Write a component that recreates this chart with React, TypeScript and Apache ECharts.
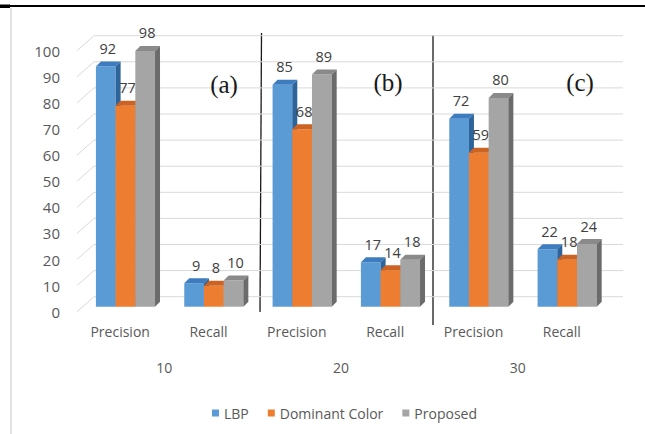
import React, { useEffect, useRef } from "react";
import * as echarts from "echarts";

const categories = ["Precision", "Recall", "Precision", "Recall", "Precision", "Recall"];
const groups = ["10", "20", "30"];
const seriesNames = ["LBP", "Dominant Color", "Proposed"];
const lbp = [92, 9, 85, 17, 72, 22];
const dominant = [77, 8, 68, 14, 59, 18];
const proposed = [98, 10, 89, 18, 80, 24];
const yTicks = [0, 10, 20, 30, 40, 50, 60, 70, 80, 90, 100];
const panelLabels = ["(a)", "(b)", "(c)"];

const FONT = "Open Sans";
const TEXT_COLOR = "#595959";
const palettes = [
  { front: "#5B9BD5", top: "#3D7CBF", side: "#2E649C" },
  { front: "#ED7D31", top: "#CC6322", side: "#A9501A" },
  { front: "#A5A5A5", top: "#8A8A8A", side: "#6B6B6B" },
];

const BAR_W = 19.7;
const DX = 5;
const DY = -5;
const SHIFT_X = 5.3;
const SHIFT_Y = -5;
const WALL_DX = 18;
const WALL_DY = -15;

function barRender(sIdx: number) {
  return (params: any, api: any) => {
    const i = api.value(0);
    const v = api.value(1);
    const top = api.coord([i, v]);
    const base = api.coord([i, 0]);
    const x0 = top[0] + SHIFT_X - 1.5 * BAR_W + sIdx * BAR_W;
    const x1 = x0 + BAR_W;
    const yT = top[1] + SHIFT_Y;
    const yB = base[1] + SHIFT_Y;
    const p = palettes[sIdx];
    return {
      type: "group",
      children: [
        {
          type: "rect",
          shape: { x: x0, y: yT, width: BAR_W, height: yB - yT },
          style: { fill: p.front },
        },
        {
          type: "polygon",
          shape: { points: [[x0, yT], [x1, yT], [x1 + DX, yT + DY], [x0 + DX, yT + DY]] },
          style: { fill: p.top },
        },
        {
          type: "polygon",
          shape: { points: [[x1, yT], [x1 + DX, yT + DY], [x1 + DX, yB + DY], [x1, yB]] },
          style: { fill: p.side },
        },
        {
          type: "text",
          x: (x0 + x1) / 2 + 2,
          y: yT - 18,
          style: {
            text: String(v),
            fill: "#404040",
            font: `14.5px "${FONT}"`,
            align: "center",
            verticalAlign: "middle",
          },
        },
      ],
    };
  };
}

function gridRender(params: any, api: any) {
  const v = api.value(0);
  const p = api.coord([0, v]);
  const band = api.size([1, 0])[0];
  const left = p[0] - band / 2;
  const right = api.coord([categories.length - 1, v])[0] + band / 2;
  const y = p[1];
  return {
    type: "polyline",
    shape: {
      points: [
        [left + 1, y],
        [left + WALL_DX, y + WALL_DY],
        [right + WALL_DX - 1, y + WALL_DY],
      ],
    },
    style: { stroke: "#D9D9D9", lineWidth: 1, fill: null },
  };
}

export default function App() {
  const ref = useRef<HTMLDivElement>(null);
  useEffect(() => {
    if (!ref.current) return;
    const chart = echarts.init(ref.current, null, { renderer: "svg" });
    const dataSets = [lbp, dominant, proposed];
    const option: any = {
      animation: false,
      backgroundColor: "#ffffff",
      textStyle: { fontFamily: FONT },
      grid: { left: 76, right: 39, top: 50.7, height: 261 },
      legend: {
        data: seriesNames,
        left: 207,
        top: 401,
        icon: "rect",
        itemWidth: 7,
        itemHeight: 7,
        itemGap: 19,
        textStyle: { fontFamily: FONT, fontSize: 14, color: TEXT_COLOR },
      },
      xAxis: [
        {
          type: "category",
          data: categories,
          axisLine: { show: false },
          axisTick: { show: false },
          axisLabel: { margin: 13, fontFamily: FONT, fontSize: 14, color: TEXT_COLOR },
          splitLine: { show: false },
        },
        {
          type: "category",
          data: groups,
          position: "bottom",
          offset: 36,
          axisLine: { show: false },
          axisTick: { show: false },
          axisLabel: { margin: 13, fontFamily: FONT, fontSize: 14, color: TEXT_COLOR },
          splitLine: { show: false },
        },
      ],
      yAxis: {
        type: "value",
        min: 0,
        max: 100,
        interval: 10,
        axisLine: { show: false },
        axisTick: { show: false },
        splitLine: { show: false },
        axisLabel: { margin: 16, fontFamily: FONT, fontSize: 15, color: TEXT_COLOR },
      },
      series: [
        {
          type: "custom",
          name: "grid",
          xAxisIndex: 0,
          yAxisIndex: 0,
          z: 1,
          silent: true,
          clip: false,
          renderItem: gridRender,
          data: yTicks.map((t) => [t]),
          encode: { y: 0 },
        },
        ...seriesNames.map((name, s) => ({
          type: "custom",
          name,
          xAxisIndex: 0,
          yAxisIndex: 0,
          z: 2 + s,
          clip: false,
          itemStyle: { color: palettes[s].front },
          renderItem: barRender(s),
          data: dataSets[s].map((v, i) => [i, v]),
          encode: { x: 0, y: 1 },
        })),
      ],
      graphic: [
        { type: "rect", shape: { x: 0, y: 5, width: 645, height: 2 }, style: { fill: "#000" } },
        { type: "rect", shape: { x: 0, y: 4.5, width: 10, height: 3.5 }, style: { fill: "#000" } },
        { type: "rect", shape: { x: 10, y: 8, width: 2, height: 426 }, style: { fill: "#E2E2E2" } },
        { type: "line", shape: { x1: 261.5, y1: 33, x2: 260, y2: 312 }, style: { stroke: "#1a1a1a", lineWidth: 1.3 } },
        { type: "line", shape: { x1: 433, y1: 35, x2: 433, y2: 325 }, style: { stroke: "#1a1a1a", lineWidth: 1.3 } },
        ...panelLabels.map((t, k) => ({
          type: "text",
          x: [224, 388, 580][k],
          y: [84, 82, 82][k],
          style: {
            text: t,
            fill: "#1a1a1a",
            font: '25px "Liberation Serif"',
            align: "center",
            verticalAlign: "middle",
          },
          z: 10,
        })),
      ],
    };
    chart.setOption(option);
    return () => chart.dispose();
  }, []);
  return (
    <div
      ref={ref}
      style={{ position: "fixed", left: 0, top: 0, width: 645, height: 434 }}
    />
  );
}
